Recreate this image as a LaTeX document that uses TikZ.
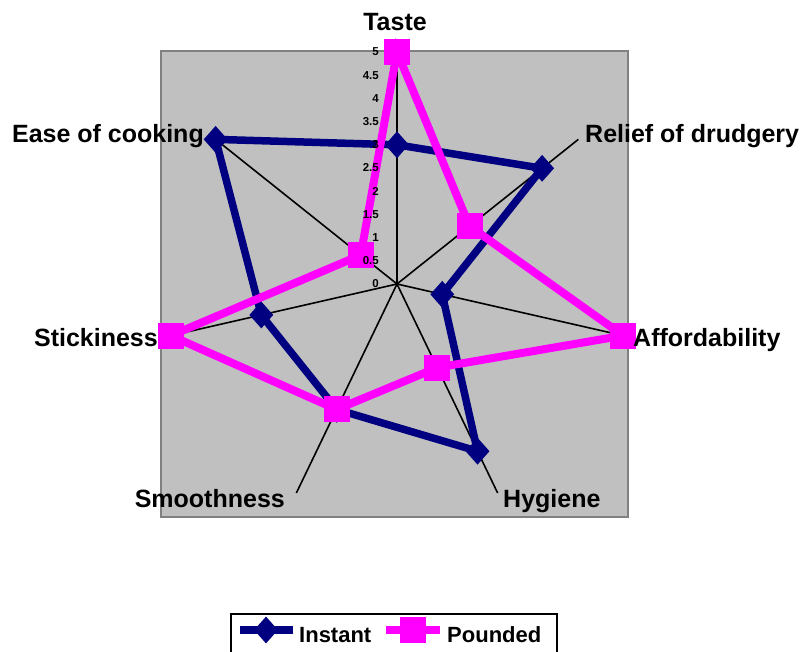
\documentclass[tikz,border=0pt]{standalone}
\usepackage{fontspec}
\setmainfont{Liberation Sans}
\usetikzlibrary{shapes.geometric}
\definecolor{navyline}{HTML}{000080}
\definecolor{pinkline}{HTML}{FF00FF}
\definecolor{plotgray}{HTML}{C0C0C0}
\definecolor{frame}{HTML}{808080}
\tikzset{
  plotarea/.style={fill=plotgray, draw=frame, line width=2pt},
  spoke/.style={draw=black, line width=1.6pt},
  axislabel/.style={font=\fontsize{25}{29}\selectfont\bfseries, inner sep=0pt},
  ticklabel/.style={font=\fontsize{11.5}{13}\selectfont\bfseries, inner sep=0pt, anchor=east},
  instline/.style={draw=navyline, line width=7.5pt, line join=miter},
  poundline/.style={draw=pinkline, line width=8pt, line join=miter},
  imark/.style={diamond, fill=navyline, minimum width=24pt, minimum height=27pt, inner sep=0pt},
  pmark/.style={rectangle, fill=pinkline, minimum width=26pt, minimum height=26pt, inner sep=0pt},
  legendbox/.style={draw=black, line width=2pt, fill=white},
  legendtext/.style={font=\fontsize{22}{26}\selectfont\bfseries, inner sep=0pt, anchor=base west},
}
\begin{document}
\begin{tikzpicture}[x=1pt, y=-1pt]
\useasboundingbox (0,0) rectangle (803,651);
% plot area
\draw[plotarea] (161,51) rectangle (628,517);
% centre of the radar
\coordinate (O) at (397,284);
% outer ends of the seven spokes (value 5)
\foreach \k in {0,...,6} {
  \coordinate (s\k) at ({397+232*cos(90-\k*360/7)}, {284-232*sin(90-\k*360/7)});
  \draw[spoke] (O) -- (s\k);
}
% data points
\foreach \v [count=\k from 0] in {3,4,1,4,3,3,5} {
  \coordinate (i\k) at ({397+46.4*\v*cos(90-\k*360/7)}, {284-46.4*\v*sin(90-\k*360/7)});
}
\foreach \v [count=\k from 0] in {5,2,5,2,3,5,1} {
  \coordinate (p\k) at ({397+46.4*\v*cos(90-\k*360/7)}, {284-46.4*\v*sin(90-\k*360/7)});
}
% series outlines and markers
\draw[instline] (i0) -- (i1) -- (i2) -- (i3) -- (i4) -- (i5) -- (i6) -- cycle;
\foreach \k in {0,...,6} {
  \node[imark] (im\k) at (i\k) {};
}
\draw[poundline] (p0) -- (p1) -- (p2) -- (p3) -- (p4) -- (p5) -- (p6) -- cycle;
\foreach \k in {0,...,6} {
  \node[pmark] (pm\k) at (p\k) {};
}
% scale labels along the first spoke
\foreach \t in {0,0.5,1,1.5,2,2.5,3,3.5,4,4.5,5} {
  \node[ticklabel] (t\t) at (379, {284-46.4*\t}) {\t};
}
% category labels
\node[axislabel, anchor=base] (lt) at (395,30) {Taste};
\node[axislabel, anchor=base west] (lr) at (585,142) {Relief of drudgery};
\node[axislabel, anchor=base west] (la) at (633,346) {Affordability};
\node[axislabel, anchor=base west] (lh) at (503,507) {Hygiene};
\node[axislabel, anchor=base east] (lsm) at (285,507) {Smoothness};
\node[axislabel, anchor=base east] (lst) at (158,346) {Stickiness};
\node[axislabel, anchor=base east] (le) at (204,142) {Ease of cooking};
% legend
\draw[legendbox] (231,614) rectangle (557,670);
\coordinate (la1) at (240,630);
\coordinate (la2) at (293,630);
\draw[draw=navyline, line width=7.5pt] (la1) -- (la2);
\node[imark] (lim) at (266,630) {};
\node[legendtext] (lit) at (299,642) {Instant};
\coordinate (lb1) at (386,630);
\coordinate (lb2) at (440,630);
\draw[draw=pinkline, line width=8pt] (lb1) -- (lb2);
\node[pmark] (lpm) at (413,630) {};
\node[legendtext] (lpt) at (447,642) {Pounded};
\end{tikzpicture}
\end{document}
